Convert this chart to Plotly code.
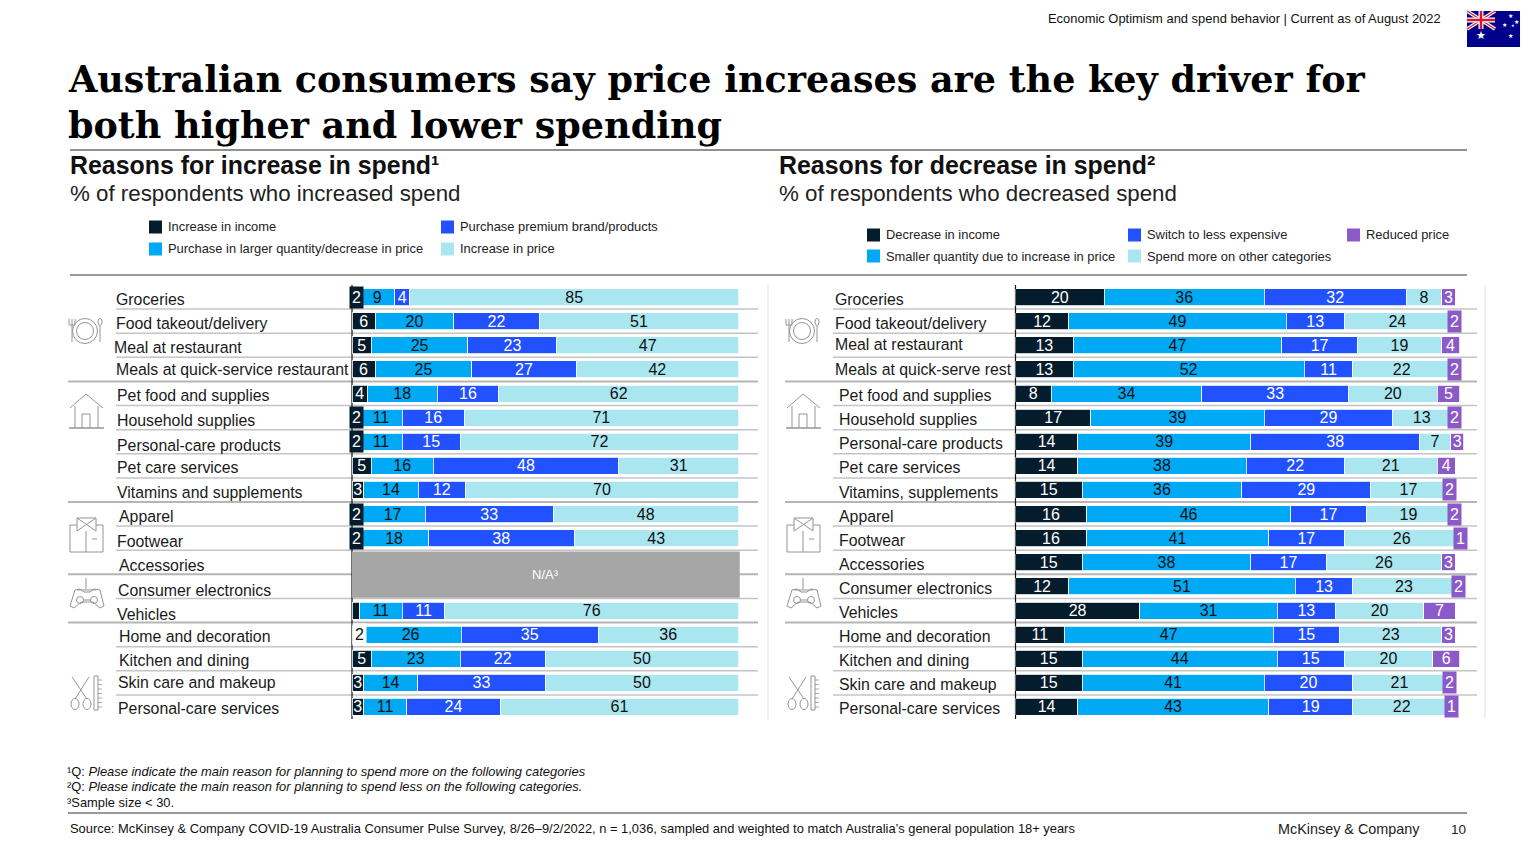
import numpy as np
import plotly.graph_objects as go

# ---------- data ----------
left_categories = ["Groceries", "Food takeout/delivery", "Meal at restaurant", "Meals at quick-service restaurant",
                   "Pet food and supplies", "Household supplies", "Personal-care products", "Pet care services",
                   "Vitamins and supplements", "Apparel", "Footwear", "Accessories", "Consumer electronics", "Vehicles",
                   "Home and decoration", "Kitchen and dining", "Skin care and makeup", "Personal-care services"]
right_categories = ["Groceries", "Food takeout/delivery", "Meal at restaurant", "Meals at quick-serve rest",
                    "Pet food and supplies", "Household supplies", "Personal-care products", "Pet care services",
                    "Vitamins, supplements", "Apparel", "Footwear", "Accessories", "Consumer electronics", "Vehicles",
                    "Home and decoration", "Kitchen and dining", "Skin care and makeup", "Personal-care services"]

left_series_names = ["Increase in income", "Purchase in larger quantity/decrease in price",
                     "Purchase premium brand/products", "Increase in price"]
increase_income = [2, 6, 5, 6, 4, 2, 2, 5, 3, 2, 2, None, None, 2, 2, 5, 3, 3]
increase_larger = [9, 20, 25, 25, 18, 11, 11, 16, 14, 17, 18, None, None, 11, 26, 23, 14, 11]
increase_premium = [4, 22, 23, 27, 16, 16, 15, 48, 12, 33, 38, None, None, 11, 35, 22, 33, 24]
increase_price = [85, 51, 47, 42, 62, 71, 72, 31, 70, 48, 43, None, None, 76, 36, 50, 50, 61]

right_series_names = ["Decrease in income", "Smaller quantity due to increase in price",
                      "Switch to less expensive", "Spend more on other categories", "Reduced price"]
decrease_income = [20, 12, 13, 13, 8, 17, 14, 14, 15, 16, 16, 15, 12, 28, 11, 15, 15, 14]
decrease_smaller = [36, 49, 47, 52, 34, 39, 39, 38, 36, 46, 41, 38, 51, 31, 47, 44, 41, 43]
decrease_switch = [32, 13, 17, 11, 33, 29, 38, 22, 29, 17, 17, 17, 13, 13, 15, 15, 20, 19]
decrease_other = [8, 24, 19, 22, 20, 13, 7, 21, 17, 19, 26, 26, 23, 20, 23, 20, 21, 22]
decrease_reduced = [3, 2, 4, 2, 5, 2, 3, 4, 2, 2, 1, 3, 2, 7, 3, 6, 2, 1]

# ---------- styles ----------
W, H = 1536, 864
SANS = "Liberation Sans"
DARK, BLUE, ROYAL, LIGHT, PURPLE, GRAY = "#051C2C", "#00A9F4", "#2251FF", "#AAE6F0", "#8C5AC8", "#A6A6A6"
INK = "#111111"
LEFT_COLORS = [DARK, BLUE, ROYAL, LIGHT]
LEFT_TEXT = ["white", INK, "white", INK]
RIGHT_COLORS = [DARK, BLUE, ROYAL, LIGHT, PURPLE]
RIGHT_TEXT = ["white", INK, "white", INK, "white"]
ROW_TOP, ROW_BOTTOM = 285.0, 719.0
ROW_H = (ROW_BOTTOM - ROW_TOP) / 18
LEFT_X0, LEFT_X1, LEFT_SCALE = 352.0, 745.0, 3.866
RIGHT_X0, RIGHT_X1, RIGHT_SCALE = 1015.5, 1472.0, 4.44
VALUE_SIZE = 16
ICON_GRAY = "#949494"


def px(x):
    return x / W


def py(y):
    return 1 - y / H


shapes, annotations = [], []


def line(x0, y0, x1, y1, color="#C4C4C4", width=1.5):
    shapes.append(dict(type="line", xref="paper", yref="paper", x0=px(x0), x1=px(x1), y0=py(y0), y1=py(y1),
                       line=dict(color=color, width=width), layer="below"))


def rect(x0, y0, x1, y1, color, layer="below"):
    shapes.append(dict(type="rect", xref="paper", yref="paper", x0=px(x0), x1=px(x1), y0=py(y0), y1=py(y1),
                       fillcolor=color, line=dict(width=0), layer=layer))


def poly(points, color=ICON_GRAY, width=1.0, closed=False, fill=None):
    d = "M " + " L ".join(f"{px(x):.5f} {py(y):.5f}" for x, y in points) + (" Z" if closed else "")
    s = dict(type="path", path=d, xref="paper", yref="paper", line=dict(color=color, width=width), layer="above")
    if fill:
        s["fillcolor"] = fill
    shapes.append(s)


def ring(cx, cy, rx, ry=None, color=ICON_GRAY, width=1.0):
    ry = rx if ry is None else ry
    shapes.append(dict(type="circle", xref="paper", yref="paper", x0=px(cx - rx), x1=px(cx + rx),
                       y0=py(cy - ry), y1=py(cy + ry), line=dict(color=color, width=width), layer="above"))


def label(x, y, text, size=15, color=INK, anchor="left", family=SANS, **kw):
    annotations.append(dict(xref="paper", yref="paper", x=px(x), y=py(y), text=text, showarrow=False,
                            xanchor=anchor, yanchor="middle", align=anchor,
                            font=dict(family=family, size=size, color=color), borderpad=0, borderwidth=0, **kw))


# ---------- header ----------
label(1441, 18, "Economic Optimism and spend behavior | Current as of August 2022", 12.93, "#111", "right")
TITLE_FONT = "DejaVu Serif"
label(68, 80, "<b>Australian consumers say price increases are the key driver for</b>", 36.5, "#000", family=TITLE_FONT)
label(68, 125, "<b>both higher and lower spending</b>", 36.5, "#000", family=TITLE_FONT)
line(70, 150, 1467, 150, "#222222", 1)
line(70, 275, 1467, 275, "#9A9A9A", 2)

label(70, 165, "<b>Reasons for increase in spend¹</b>", 24.9, "#111")
label(70, 194, "% of respondents who increased spend", 22.3, "#222")
label(779, 165, "<b>Reasons for decrease in spend²</b>", 24.9, "#111")
label(779, 194, "% of respondents who decreased spend", 22.3, "#222")

# flag
rect(1467, 11, 1520, 47, "#00008B", "above")
UX0, UX1, UY0, UY1 = 1467, 1495, 11, 29
poly([(UX0, UY0), (UX1, UY1)], "white", 3.5)
poly([(UX0, UY1), (UX1, UY0)], "white", 3.5)
poly([(UX0, UY0), (UX1, UY1)], "#E0142C", 1.2)
poly([(UX0, UY1), (UX1, UY0)], "#E0142C", 1.2)
poly([((UX0 + UX1) / 2, UY0), ((UX0 + UX1) / 2, UY1)], "white", 5)
poly([(UX0, (UY0 + UY1) / 2), (UX1, (UY0 + UY1) / 2)], "white", 5)
poly([((UX0 + UX1) / 2, UY0), ((UX0 + UX1) / 2, UY1)], "#E0142C", 2.5)
poly([(UX0, (UY0 + UY1) / 2), (UX1, (UY0 + UY1) / 2)], "#E0142C", 2.5)
for sx, sy, ss in [(1481, 35, 11), (1510, 15, 6), (1504, 24, 6), (1516, 21, 6), (1510, 36, 6), (1513, 26, 4)]:
    label(sx, sy, "★", ss, "white", "center", "DejaVu Sans")

# ---------- legends ----------
left_legend_pos = [(149, 227), (149, 249), (441, 227), (441, 249)]
for name, color, (x, y) in zip(left_series_names, LEFT_COLORS, left_legend_pos):
    rect(x, y - 6.5, x + 13, y + 6.5, color)
    label(x + 19, y, name, 12.9, "#222")
right_legend_pos = [(867, 235), (867, 256), (1128, 235), (1128, 256), (1347, 235)]
for name, color, (x, y) in zip(right_series_names, RIGHT_COLORS, right_legend_pos):
    rect(x, y - 6.5, x + 13, y + 6.5, color)
    label(x + 18.5, y, name, 12.9, "#222")

# ---------- rules ----------
GROUP_ENDS = {3, 8, 11, 13}
for i in range(17):
    y = ROW_TOP + ROW_H * (i + 1)
    if i in GROUP_ENDS:
        line(68, y, 758, y, "#B5B5B5", 2)
        line(785, y, 1477, y, "#B5B5B5", 2)
    else:
        line(116, y, 758, y)
        line(833, y, 1477, y)
line(768, 285, 768, 719, "#E2E2E2", 1)
line(1485, 285, 1485, 719, "#E2E2E2", 1)

# ---------- row labels ----------
left_label_x = [116, 116, 114, 116, 117, 117, 117, 117, 117, 119, 117, 119, 118, 117, 119, 119, 118, 118]
left_label_y = [299, 323, 347, 370, 395, 420, 445, 468, 492, 516, 541, 565, 590, 614, 636, 660, 682, 708]
right_label_x = [835, 835, 835, 835, 839, 839, 839, 839, 839, 839, 839, 839, 839, 839, 839, 839, 839, 839]
right_label_y = [299, 323, 344, 370, 395, 419, 443, 467, 492, 516, 540, 564, 588, 612, 636, 660, 684, 708]
for c, x, y in zip(left_categories, left_label_x, left_label_y):
    label(x, y, c, 15.85, "#1a1a1a")
for c, x, y in zip(right_categories, right_label_x, right_label_y):
    label(x, y, c, 15.85, "#1a1a1a")


# ---------- icons ----------
def icons(dx):
    # plate
    ring(85 + dx, 331, 12.5)
    ring(85 + dx, 331, 8.5)
    poly([(72 + dx, 319), (72 + dx, 342)])
    poly([(69 + dx, 319), (69 + dx, 325), (75 + dx, 325), (75 + dx, 319)])
    ring(100 + dx, 322, 2, 3.5)
    poly([(100 + dx, 326), (100 + dx, 342)])
    # house
    poly([(70 + dx, 408), (86 + dx, 394), (103 + dx, 408)])
    poly([(75 + dx, 406), (75 + dx, 428)])
    poly([(98 + dx, 406), (98 + dx, 428)])
    poly([(69 + dx, 428), (104 + dx, 428)], width=1.5)
    poly([(82 + dx, 428), (82 + dx, 414), (90 + dx, 414), (90 + dx, 428)])
    # shirt
    poly([(77 + dx, 525), (70 + dx, 525), (70 + dx, 552), (103 + dx, 552), (103 + dx, 525), (96 + dx, 525)])
    poly([(86 + dx, 531), (86 + dx, 552)])
    poly([(77 + dx, 518), (96 + dx, 518), (96 + dx, 531), (77 + dx, 518), (77 + dx, 531), (96 + dx, 518)])
    poly([(92 + dx, 539), (97 + dx, 539)])
    # controller
    poly([(86 + dx, 578), (86 + dx, 589)])
    poly([(77 + dx, 590), (96 + dx, 590)])
    poly([(75 + dx, 590), (80 + dx, 589), (84 + dx, 592), (90 + dx, 592), (94 + dx, 589), (100 + dx, 590),
          (104 + dx, 606), (100 + dx, 608), (93 + dx, 602), (81 + dx, 602), (74 + dx, 608), (70 + dx, 606), (75 + dx, 590)])
    ring(80 + dx, 600, 3.5)
    ring(94 + dx, 600, 3.5)
    poly([(83.5 + dx, 600), (90.5 + dx, 600)])
    # scissors and ruler
    poly([(72 + dx, 677), (87 + dx, 699)])
    poly([(89 + dx, 677), (75 + dx, 699)])
    ring(75 + dx, 704, 4, 5.5)
    ring(87 + dx, 704, 4, 5.5)
    poly([(94 + dx, 676), (94 + dx, 710), (98 + dx, 710), (98 + dx, 676), (94 + dx, 676)])
    for k in range(7):
        poly([(98 + dx, 680 + 4.5 * k), (102 + dx, 680 + 4.5 * k)], width=0.8)


icons(0)
icons(717)

# ---------- traces ----------
fig = go.Figure()
left_sets = [increase_income, increase_larger, increase_premium, increase_price]
left_rows = np.array(left_sets, dtype=float)
left_norm = left_rows / np.nansum(left_rows, axis=0, keepdims=True).clip(min=1) * 100
for s, name in enumerate(left_series_names):
    raw = left_sets[s]
    text = [None if v is None or (s == 0 and v == 2) else str(v) for v in raw]
    fig.add_trace(go.Bar(y=left_categories, x=left_norm[s], name=name, orientation="h", xaxis="x", yaxis="y",
                         marker=dict(color=LEFT_COLORS[s], line=dict(color="white", width=0.8)),
                         text=text, textposition="inside", insidetextanchor="middle", textangle=0,
                         constraintext="none", cliponaxis=False, showlegend=False,
                         textfont=dict(family=SANS, size=VALUE_SIZE, color=LEFT_TEXT[s])))

right_sets = [decrease_income, decrease_smaller, decrease_switch, decrease_other, decrease_reduced]
for s, name in enumerate(right_series_names):
    raw = right_sets[s]
    text = [None if s == 4 and v <= 2 else str(v) for v in raw]
    fig.add_trace(go.Bar(y=right_categories, x=raw, name=name, orientation="h", xaxis="x2", yaxis="y2",
                         marker=dict(color=RIGHT_COLORS[s], line=dict(color="white", width=0.8)),
                         text=text, textposition="inside", insidetextanchor="middle", textangle=0,
                         constraintext="none", cliponaxis=False, showlegend=False,
                         textfont=dict(family=SANS, size=VALUE_SIZE, color=RIGHT_TEXT[s])))

# labels wider than their bars
for r, v in enumerate(increase_income):
    if v != 2:
        continue
    cat = left_categories[r]
    if cat == "Vehicles":
        continue
    if cat == "Home and decoration":
        annotations.append(dict(xref="x", yref="y", x=v / 2, y=cat, text="2", showarrow=False, xshift=4,
                                bgcolor="white", borderpad=2, font=dict(family=SANS, size=VALUE_SIZE, color=INK)))
    else:
        annotations.append(dict(xref="x", yref="y", x=v / 2, y=cat, text="2", showarrow=False, xshift=1,
                                bgcolor=DARK, borderpad=2, font=dict(family=SANS, size=VALUE_SIZE, color="white")))
right_totals = np.sum(np.array(right_sets[:4]), axis=0)
for r, v in enumerate(decrease_reduced):
    if v <= 2:
        annotations.append(dict(xref="x2", yref="y2", x=right_totals[r] + v / 2, y=right_categories[r], text=str(v),
                                showarrow=False, xshift=-1, bgcolor=PURPLE, borderpad=2,
                                font=dict(family=SANS, size=VALUE_SIZE, color="white")))

# N/A block over the two rows without data
shapes.append(dict(type="rect", xref="x", yref="y", x0=0, x1=100.3, y0=10.55, y1=12.47, fillcolor=GRAY,
                   line=dict(width=0), layer="above"))
annotations.append(dict(xref="x", yref="y", x=50, y=11.5, text="N/A³", showarrow=False,
                        font=dict(family=SANS, size=13, color="white")))

# vertical zero lines
line(352, 285, 352, 719, "#111111", 1.2)
line(1015.5, 285, 1015.5, 719, "#111111", 1.2)

# ---------- footer ----------
label(67, 771, "¹Q: <i>Please indicate the main reason for planning to spend more on the following categories</i>", 12.9, "#111")
label(67, 786.5, "²Q: <i>Please indicate the main reason for planning to spend less on the following categories.</i>", 12.9, "#111")
label(67, 802, "³Sample size &lt; 30.", 12.9, "#111")
line(68, 813, 1467, 813, "#333333", 1.2)
label(70, 828, "Source: McKinsey &amp; Company COVID-19 Australia Consumer Pulse Survey, 8/26–9/2/2022, n = 1,036, sampled and weighted to match Australia’s general population 18+ years", 12.9, "#111")
label(1420, 829, "McKinsey &amp; Company", 14.4, "#222", "right")
label(1466, 829, "10", 13.5, "#222", "right")

cats_axis = dict(type="category", range=[17.5, -0.5], showticklabels=False, showgrid=False, zeroline=False,
                 showline=False, ticks="", domain=[py(ROW_BOTTOM), py(ROW_TOP)])
fig.update_layout(
    width=W, height=H, autosize=False, margin=dict(l=0, r=0, t=0, b=0, pad=0),
    paper_bgcolor="white", plot_bgcolor="rgba(0,0,0,0)",
    barmode="stack", bargap=1 - 17 / ROW_H, showlegend=False,
    font=dict(family=SANS),
    xaxis=dict(domain=[px(LEFT_X0), px(LEFT_X1)], range=[0, (LEFT_X1 - LEFT_X0) / LEFT_SCALE], visible=False, anchor="y"),
    xaxis2=dict(domain=[px(RIGHT_X0), px(RIGHT_X1)], range=[0, (RIGHT_X1 - RIGHT_X0) / RIGHT_SCALE], visible=False, anchor="y2"),
    yaxis=dict(categoryorder="array", categoryarray=left_categories, anchor="x", **cats_axis),
    yaxis2=dict(categoryorder="array", categoryarray=right_categories, anchor="x2", **cats_axis),
    shapes=shapes, annotations=annotations,
)
fig.write_html("out.html", config=dict(displayModeBar=False),
               post_script="document.body.style.margin='0';document.body.style.overflow='hidden';")
